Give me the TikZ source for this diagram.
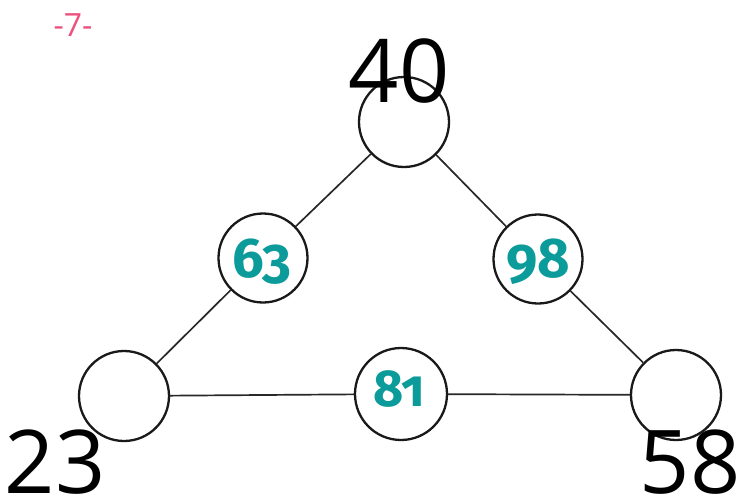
\documentclass[tikz,border=0pt]{standalone}
\usepackage{fontspec}
\setmainfont{Open Sans}
\newfontfamily\tealfont[Numbers=OldStyle]{Fira Sans}
\definecolor{tealnum}{RGB}{12,155,155}
\definecolor{pinknum}{RGB}{236,80,125}
\definecolor{ringcol}{RGB}{25,25,25}
\definecolor{edgecol}{RGB}{40,40,40}
\begin{document}
\begin{tikzpicture}[x=1pt,y=-1pt,
  ring/.style={circle,draw=ringcol,line width=2.3pt,minimum size=90pt,inner sep=0pt},
  numring/.style={circle,draw=ringcol,line width=2.3pt,minimum size=89pt,inner sep=0pt},
  edge/.style={draw=edgecol,line width=1.7pt},
  biglabel/.style={font=\fontsize{88}{88}\selectfont,inner sep=0pt,anchor=base,text=black},
  tealtxt/.style={font=\tealfont\bfseries\fontsize{56}{56}\selectfont,text=tealnum,inner sep=0pt,anchor=base}]
\useasboundingbox (0,0) rectangle (740,498);
\node[ring] (top) at (404,122) {};
\node[ring] (bl) at (124,396) {};
\node[ring] (br) at (676,395) {};
\node[numring] (n63) at (263,258) {};
\node[numring] (n98) at (538,259) {};
\node[numring,minimum size=92pt] (n81) at (401,394) {};
\draw[edge] (top) -- (n63);
\draw[edge] (n63) -- (bl);
\draw[edge] (top) -- (n98);
\draw[edge] (n98) -- (br);
\draw[edge] (bl) -- (n81);
\draw[edge] (n81) -- (br);
\node[tealtxt] (t63) at (262,277) {63};
\node[tealtxt] (t98) at (538,277) {98};
\node[tealtxt,font=\tealfont\bfseries\fontsize{52}{52}\selectfont] (t81) at (399,406) {81};
\node[biglabel] (l40) at (399,102) {40};
\node[biglabel] (l23) at (55,493) {23};
\node[biglabel] (l58) at (690,493) {58};
\node[font=\fontsize{32}{32}\selectfont,text=pinknum,inner sep=0pt,anchor=base] (pg) at (73,36) {-7-};
\end{tikzpicture}
\end{document}
